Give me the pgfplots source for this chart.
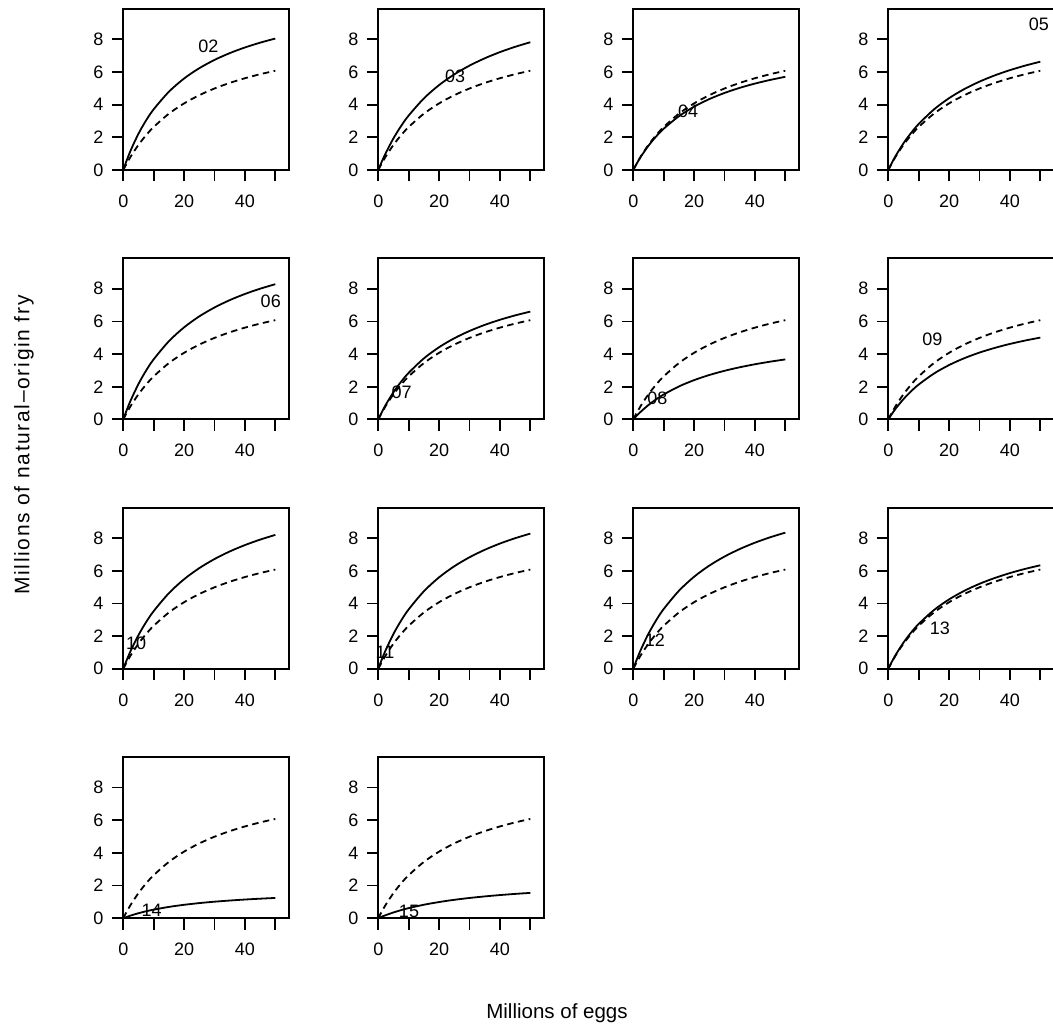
\documentclass[border=0pt]{standalone}
\usepackage{fontspec}
\setmainfont{Liberation Sans}
\newfontfamily\ylabfont[LetterSpace=8]{Liberation Sans}
\usepackage{pgfplots}
\usepackage{pgfplotstable}
\pgfplotsset{compat=1.18}

\pgfplotstableread{
x y
0 0
1 0.357
2.5 0.843
5 1.542
7.5 2.131
10 2.634
15 3.449
20 4.079
25 4.581
30 4.991
35 5.332
40 5.619
45 5.865
50 6.078
}\reftab

\tikzset{
  solidc/.style={black, line width=1.8pt, smooth},
  dashc/.style={black, line width=1.8pt, smooth, dash pattern=on 6.5pt off 4.5pt},
  plab/.style={font=\fontsize{18}{20}\selectfont},
}
\pgfplotsset{
  panel/.style={
    width=166pt, height=161pt, scale only axis, anchor=south west,
    xmin=0, xmax=54.6, ymin=0, ymax=9.86,
    xtick={0,10,20,30,40,50}, xticklabels={0,,20,,40,},
    ytick={0,2,4,6,8}, yticklabels={0,2,4,6,8},
    tick pos=left, tick align=outside,
    major tick length=11.5pt,
    axis line style={line width=1.8pt},
    every tick/.style={black, line width=1.8pt},
    tick label style={font=\fontsize{18}{20}\selectfont},
    xticklabel style={yshift=-10pt},
    yticklabel style={xshift=-5pt},
    clip mode=individual,
  },
}

\begin{document}
\begin{tikzpicture}
\useasboundingbox (0,0) rectangle (1053pt,1034pt);

% Row 1
\begin{axis}[panel, at={(123.3pt,864pt)}]
\addplot[solidc] coordinates {(0,0)(1,0.527)(2.5,1.232)(5,2.224)(7.5,3.038)(10,3.719)(15,4.793)(20,5.603)(25,6.235)(30,6.741)(35,7.157)(40,7.503)(45,7.797)(50,8.050)};
\addplot[dashc] table {\reftab};
\node[plab] at (axis cs:28,7.55) {02};
\end{axis}

\begin{axis}[panel, at={(378.3pt,864pt)}]
\addplot[solidc] coordinates {(0,0)(1,0.448)(2.5,1.059)(5,1.944)(7.5,2.694)(10,3.338)(15,4.386)(20,5.202)(25,5.857)(30,6.393)(35,6.840)(40,7.219)(45,7.543)(50,7.825)};
\addplot[dashc] table {\reftab};
\node[plab] at (axis cs:25.3,5.76) {03};
\end{axis}

\begin{axis}[panel, at={(633.3pt,864pt)}]
\addplot[solidc] coordinates {(0,0)(1,0.348)(2.5,0.818)(5,1.490)(7.5,2.052)(10,2.528)(15,3.292)(20,3.878)(25,4.342)(30,4.718)(35,5.030)(40,5.292)(45,5.515)(50,5.708)};
\addplot[dashc] table {\reftab};
\node[plab] at (axis cs:18,3.57) {04};
\end{axis}

\begin{axis}[panel, at={(888.3pt,864pt)}]
\addplot[solidc] coordinates {(0,0)(1,0.377)(2.5,0.893)(5,1.639)(7.5,2.273)(10,2.818)(15,3.706)(20,4.400)(25,4.956)(30,5.412)(35,5.793)(40,6.115)(45,6.392)(50,6.633)};
\addplot[dashc] table {\reftab};
\node[plab] at (axis cs:49.5,8.94) {05};
\end{axis}

% Row 2
\begin{axis}[panel, at={(123.3pt,614.6pt)}]
\addplot[solidc] coordinates {(0,0)(1,0.508)(2.5,1.194)(5,2.172)(7.5,2.989)(10,3.681)(15,4.789)(20,5.638)(25,6.310)(30,6.853)(35,7.303)(40,7.681)(45,8.003)(50,8.281)};
\addplot[dashc] table {\reftab};
\node[plab] at (axis cs:48.5,7.22) {06};
\end{axis}

\begin{axis}[panel, at={(378.3pt,614.6pt)}]
\addplot[solidc] coordinates {(0,0)(1,0.386)(2.5,0.912)(5,1.669)(7.5,2.307)(10,2.853)(15,3.737)(20,4.422)(25,4.969)(30,5.415)(35,5.787)(40,6.100)(45,6.369)(50,6.601)};
\addplot[dashc] table {\reftab};
\node[plab] at (axis cs:7.7,1.64) {07};
\end{axis}

\begin{axis}[panel, at={(633.3pt,614.6pt)}]
\addplot[solidc] coordinates {(0,0)(1,0.202)(2.5,0.478)(5,0.882)(7.5,1.228)(10,1.527)(15,2.018)(20,2.405)(25,2.718)(30,2.976)(35,3.192)(40,3.376)(45,3.535)(50,3.673)};
\addplot[dashc] table {\reftab};
\node[plab] at (axis cs:7.9,1.29) {08};
\end{axis}

\begin{axis}[panel, at={(888.3pt,614.6pt)}]
\addplot[solidc] coordinates {(0,0)(1,0.286)(2.5,0.677)(5,1.243)(7.5,1.723)(10,2.135)(15,2.806)(20,3.329)(25,3.748)(30,4.092)(35,4.378)(40,4.621)(45,4.829)(50,5.010)};
\addplot[dashc] table {\reftab};
\node[plab] at (axis cs:14.5,4.93) {09};
\end{axis}

% Row 3
\begin{axis}[panel, at={(123.3pt,365.2pt)}]
\addplot[solidc] coordinates {(0,0)(1,0.478)(2.5,1.128)(5,2.066)(7.5,2.857)(10,3.535)(15,4.633)(20,5.486)(25,6.166)(30,6.722)(35,7.185)(40,7.576)(45,7.911)(50,8.201)};
\addplot[dashc] table {\reftab};
\node[plab] at (axis cs:4.2,1.55) {10};
\end{axis}

\begin{axis}[panel, at={(378.3pt,365.2pt)}]
\addplot[solidc] coordinates {(0,0)(1,0.499)(2.5,1.174)(5,2.142)(7.5,2.952)(10,3.641)(15,4.750)(20,5.603)(25,6.280)(30,6.830)(35,7.286)(40,7.670)(45,7.997)(50,8.280)};
\addplot[dashc] table {\reftab};
\node[plab] at (axis cs:2.2,0.98) {11};
\end{axis}

\begin{axis}[panel, at={(633.3pt,365.2pt)}]
\addplot[solidc] coordinates {(0,0)(1,0.501)(2.5,1.179)(5,2.152)(7.5,2.967)(10,3.661)(15,4.777)(20,5.637)(25,6.320)(30,6.874)(35,7.334)(40,7.722)(45,8.053)(50,8.339)};
\addplot[dashc] table {\reftab};
\node[plab] at (axis cs:7.1,1.76) {12};
\end{axis}

\begin{axis}[panel, at={(888.3pt,365.2pt)}]
\addplot[solidc] coordinates {(0,0)(1,0.372)(2.5,0.878)(5,1.607)(7.5,2.221)(10,2.746)(15,3.595)(20,4.252)(25,4.777)(30,5.205)(35,5.560)(40,5.861)(45,6.118)(50,6.340)};
\addplot[dashc] table {\reftab};
\node[plab] at (axis cs:17,2.45) {13};
\end{axis}

% Row 4
\begin{axis}[panel, at={(123.3pt,115.8pt)}]
\addplot[solidc] coordinates {(0,0)(1,0.070)(2.5,0.166)(5,0.305)(7.5,0.424)(10,0.525)(15,0.691)(20,0.821)(25,0.925)(30,1.011)(35,1.082)(40,1.143)(45,1.195)(50,1.240)};
\addplot[dashc] table {\reftab};
\node[plab] at (axis cs:9.3,0.47) {14};
\end{axis}

\begin{axis}[panel, at={(378.3pt,115.8pt)}]
\addplot[solidc] coordinates {(0,0)(1,0.080)(2.5,0.190)(5,0.353)(7.5,0.494)(10,0.618)(15,0.825)(20,0.990)(25,1.126)(30,1.239)(35,1.334)(40,1.417)(45,1.488)(50,1.550)};
\addplot[dashc] table {\reftab};
\node[plab] at (axis cs:10.1,0.41) {15};
\end{axis}

\node[font=\fontsize{20.5}{23}\selectfont] at (557pt,21pt) {Millions of eggs};
\node[font=\ylabfont\fontsize{21}{23}\selectfont, rotate=90] at (24pt,589pt) {Millions of natural–origin fry};
\end{tikzpicture}
\end{document}
